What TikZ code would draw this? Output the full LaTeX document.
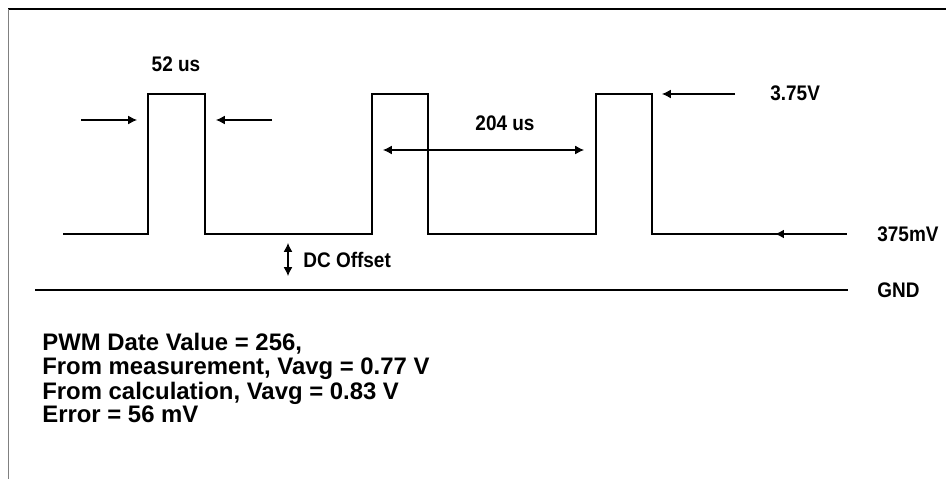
\documentclass[tikz,border=0pt]{standalone}
\usepackage{fontspec}
\setmainfont{Liberation Sans}
\newfontfamily\lblfont[FakeStretch=0.9]{Liberation Sans}
\usetikzlibrary{arrows.meta}
\tikzset{
  lbl/.style={font=\lblfont\fontsize{12}{14}\selectfont\bfseries, inner sep=0pt},
  txt/.style={font=\fontsize{13.6}{15}\selectfont\bfseries, inner sep=0pt, anchor=base west},
  wave/.style={line width=0.6pt},
  pointer/.style={line width=0.6pt, -{Latex[length=5pt,width=5pt]}},
  span/.style={line width=0.6pt, {Latex[length=5pt,width=5pt]}-{Latex[length=5pt,width=5pt]}}
}
\begin{document}
\begin{tikzpicture}[x=0.02cm,y=-0.02cm]
\useasboundingbox (0,0) rectangle (946,479);
% frame
\draw[line width=0.6pt] (8,9)--(946,9);
\draw[line width=1pt,gray] (8.5,9)--(8.5,479);
% pwm signal
\draw[wave] (63,234)--(148,234)--(148,94)--(205,94)--(205,234)--(372,234)--(372,94)--(428,94)--(428,234)
  --(596,234)--(596,94)--(652,94)--(652,234)--(847,234);
% ground
\draw[line width=0.8pt] (35,290)--(848,290);
% pulse width
\node[lbl] (pw) at (176,64.5){52 us};
\coordinate (pwa) at (81,120);
\coordinate (pwb) at (137,120);
\coordinate (pwc) at (272,120);
\coordinate (pwd) at (216,120);
\draw[pointer] (pwa)--(pwb);
\draw[pointer] (pwc)--(pwd);
% period
\node[lbl] (per) at (505,123){204 us};
\coordinate (pera) at (383,150);
\coordinate (perb) at (584,150);
\draw[span] (pera)--(perb);
% high level
\node[lbl,anchor=west] (hi) at (770,93){3.75V};
\coordinate (hia) at (735,94);
\coordinate (hib) at (662,94);
\draw[pointer] (hia)--(hib);
% low level
\node[lbl,anchor=west] (lo) at (877,234){375mV};
\coordinate (loa) at (818,234);
\coordinate (lob) at (775,234);
\draw[pointer,line width=1pt] (loa)--(lob);
% offset
\node[lbl,anchor=west] (dc) at (303,260){DC Offset};
\coordinate (dca) at (288,243);
\coordinate (dcb) at (288,276);
\draw[span] (dca)--(dcb);
\node[lbl,anchor=west] (gnd) at (877,290){GND};
% results
\node[txt] (l1) at (42,351){PWM Date Value = 256,};
\node[txt] (l2) at (42,375){From measurement, Vavg = 0.77 V};
\node[txt] (l3) at (42,399){From calculation, Vavg = 0.83 V};
\node[txt] (l4) at (42,422){Error = 56 mV};
\end{tikzpicture}
\end{document}
